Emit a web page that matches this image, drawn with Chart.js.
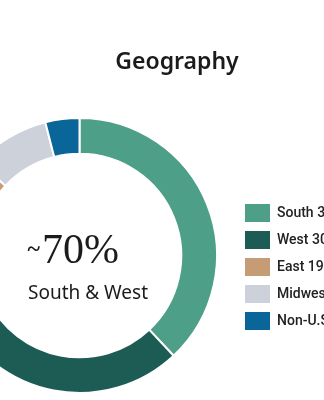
<!DOCTYPE html>
<html>
<head>
<meta charset="utf-8">
<script src="https://cdn.jsdelivr.net/npm/chart.js@4.4.0/dist/chart.umd.min.js"></script>
<style>
  html, body { margin: 0; padding: 0; background: #fff; }
  #frame { position: relative; width: 324px; height: 400px; overflow: hidden; }
  /* the chart is wider than the window, left part of the ring is cut off */
  #box { position: absolute; left: -77px; top: 0; width: 423px; height: 400px; }
</style>
</head>
<body>
<div id="frame"><div id="box"><canvas id="geo"></canvas></div></div>
<script>
const regions = ['South', 'West', 'East', 'Midwest', 'Non-U.S.'];
const shares = [38, 30, 19, 9, 4];
const regionColors = ['#4e9f87', '#1d5c55', '#c59c76', '#cdd1da', '#0a6598'];
const chartTitle = 'Geography';
const centerTilde = '~';
const centerValue = '70%';
const centerLabel = 'South & West';

// title and the text in the hole
const textPlugin = {
  id: 'geoText',
  afterDraw(chart) {
    const ctx = chart.ctx;
    const arc = chart.getDatasetMeta(0).data[0];
    const x0 = arc.x - 51.5;
    ctx.save();
    ctx.fillStyle = '#1b1b1b';
    ctx.textAlign = 'center';
    ctx.textBaseline = 'alphabetic';
    ctx.font = '600 23px "Noto Sans"';
    ctx.fillText(chartTitle, 254, 69);

    ctx.textAlign = 'left';
    ctx.font = 'bold 24px "Liberation Serif"';
    ctx.fillText(centerTilde, x0 - 0.5, arc.y + 0.5);
    ctx.font = '42px "Liberation Serif"';
    ctx.fillText(centerValue, x0 + 14, arc.y + 7);
    ctx.font = '19px "Noto Sans"';
    ctx.fillText(centerLabel, x0, arc.y + 43);
    ctx.restore();
  }
};

const geoChart = new Chart(document.getElementById('geo'), {
  type: 'doughnut',
  data: {
    labels: regions,
    datasets: [{
      data: shares,
      backgroundColor: regionColors,
      borderColor: '#ffffff',
      borderWidth: 2,
      hoverOffset: 0
    }]
  },
  options: {
    responsive: true,
    maintainAspectRatio: false,
    animation: false,
    cutout: '74%',
    layout: { padding: { top: 117, bottom: 6, left: 0, right: 0 } },
    plugins: {
      title: { display: false },
      tooltip: { enabled: false },
      legend: {
        position: 'right',
        maxWidth: 110,
        title: { display: true, text: '', padding: { top: 13, bottom: 0 }, font: { size: 10, lineHeight: 1 } },
        labels: {
          boxWidth: 25,
          boxHeight: 18,
          padding: 9,
          color: '#222',
          font: { family: 'Roboto', size: 14, weight: '500' },
          generateLabels(chart) {
            const items = Chart.overrides.doughnut.plugins.legend.labels.generateLabels(chart);
            items.forEach((item, i) => {
              item.text = regions[i] + ' ' + shares[i] + '%';
              item.lineWidth = 0;
            });
            return items;
          }
        }
      }
    }
  },
  plugins: [textPlugin]
});
</script>
</body>
</html>
